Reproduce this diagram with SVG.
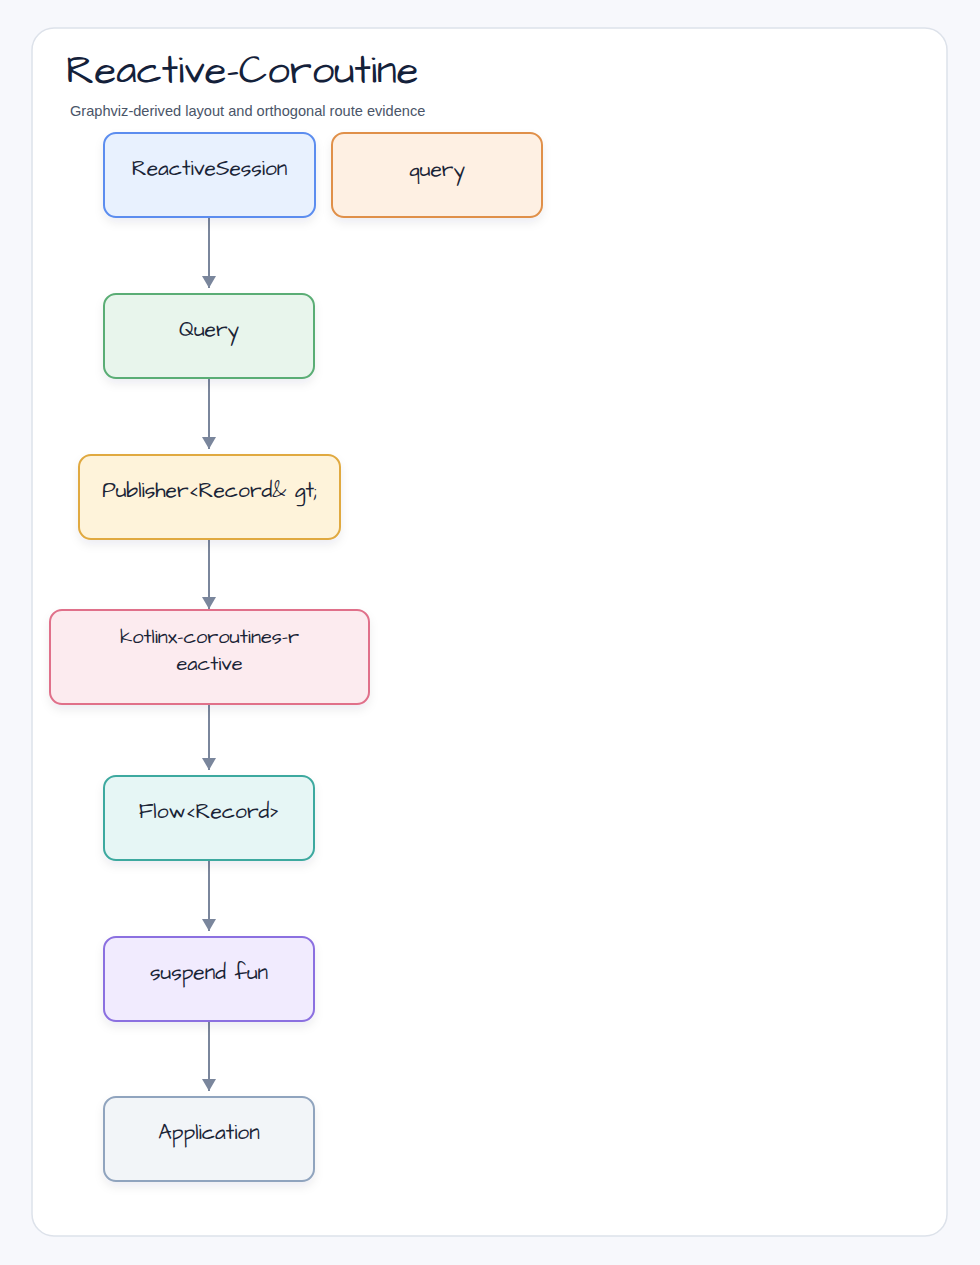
<svg xmlns="http://www.w3.org/2000/svg" width="980" height="1265" viewBox="0 0 980 1265">
<defs>
<style>
.t{font-family:"Architects Daughter","Comic Sans MS","Liberation Sans",sans-serif;fill:#1a2436;text-anchor:middle;font-size:21px}
.t2{font-size:20px}
.title{font-family:"Architects Daughter","Comic Sans MS","Liberation Sans",sans-serif;fill:#14213a;font-size:40px}
.sub{font-family:"Comic Sans MS","Liberation Sans",sans-serif;fill:#4a5568;font-size:14.6px}
.n{stroke-width:2;filter:url(#sh)}
.e{stroke:#7a869c;stroke-width:2;fill:none;marker-end:url(#ah)}
</style>
<filter id="sh" x="-10%" y="-10%" width="130%" height="140%">
<feDropShadow dx="0" dy="5" stdDeviation="5" flood-color="#1a2436" flood-opacity="0.07"/>
</filter>
<marker id="ah" viewBox="0 0 12 14" refX="12" refY="7" markerWidth="12" markerHeight="14" markerUnits="userSpaceOnUse" orient="auto">
<path d="M0,0 L12,7 L0,14 Z" fill="#7a869c"/>
</marker>
</defs>
<rect x="0" y="0" width="980" height="1265" fill="#f7f8fc"/>
<rect x="32" y="28" width="915" height="1208" rx="22" fill="#ffffff" stroke="#dde2ea" stroke-width="1.5"/>
<text class="title" x="66" y="83">Reactive-Coroutine</text>
<text class="sub" x="70" y="116">Graphviz-derived layout and orthogonal route evidence</text>
<g id="connectors">
<path class="e" d="M209,217 V288"/>
<path class="e" d="M209,378 V449"/>
<path class="e" d="M209,539 V609"/>
<path class="e" d="M209,704 V770"/>
<path class="e" d="M209,860 V931"/>
<path class="e" d="M209,1021 V1091"/>
</g>
<g id="node-reactivesession">
<rect class="n" x="104" y="133" width="211" height="84" rx="12" fill="#e8f1fe" stroke="#5b8def"/>
<text class="t" x="209.5" y="175">ReactiveSession</text>
</g>
<g id="node-query-lower">
<rect class="n" x="332" y="133" width="210" height="84" rx="12" fill="#fef0e3" stroke="#e0904a"/>
<text class="t" x="437" y="176">query</text>
</g>
<g id="node-query">
<rect class="n" x="104" y="294" width="210" height="84" rx="12" fill="#e8f5ec" stroke="#5aad74"/>
<text class="t" x="209" y="336">Query</text>
</g>
<g id="node-publisher">
<rect class="n" x="79" y="455" width="261" height="84" rx="12" fill="#fef3da" stroke="#e0a940"/>
<text class="t" x="209.5" y="497">Publisher&lt;Record&amp; gt;</text>
</g>
<g id="node-kotlinx">
<rect class="n" x="50" y="610" width="319" height="94" rx="12" fill="#fcebef" stroke="#e0708a"/>
<text class="t t2" x="209.5" y="643">kotlinx-coroutines-r</text>
<text class="t t2" x="209.5" y="670">eactive</text>
</g>
<g id="node-flow">
<rect class="n" x="104" y="776" width="210" height="84" rx="12" fill="#e6f6f5" stroke="#3ea99f"/>
<text class="t" x="209" y="818">Flow&lt;Record&gt;</text>
</g>
<g id="node-suspend">
<rect class="n" x="104" y="937" width="210" height="84" rx="12" fill="#f1ebfe" stroke="#8b6fe0"/>
<text class="t" x="209" y="979">suspend fun</text>
</g>
<g id="node-application">
<rect class="n" x="104" y="1097" width="210" height="84" rx="12" fill="#f2f5f8" stroke="#90a4be"/>
<text class="t" x="209" y="1139">Application</text>
</g>
</svg>
